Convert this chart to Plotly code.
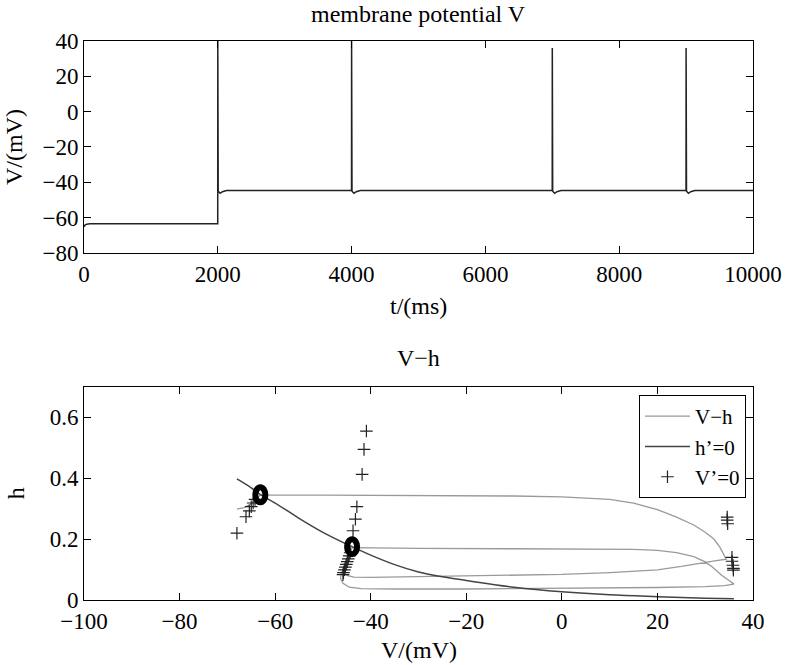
import plotly.graph_objects as go
from plotly.subplots import make_subplots

# ---- top panel: membrane potential trace (key points)
t_ms = [0, 15, 40, 90, 1999, 2000, 2001, 2003, 2006, 2035, 2070, 2130,
        3999, 4000, 4001, 4003, 4006, 4035, 4070, 4130,
        6999, 7000, 7001, 7003, 7006, 7035, 7070, 7130,
        8999, 9000, 9001, 9003, 9006, 9035, 9070, 9130, 10000]
v_mv = [-65.2, -64.2, -63.7, -63.5, -63.5, 40.0, 20.0, -20.0, -45.0, -46.2, -45.3, -44.7,
        -44.6, 40.0, 20.0, -20.0, -45.0, -46.2, -45.3, -44.7,
        -44.6, 36.0, 15.0, -20.0, -45.0, -46.2, -45.3, -44.7,
        -44.6, 36.0, 15.0, -20.0, -45.0, -46.2, -45.3, -44.7, -44.6]
t_ticks = [0, 2000, 4000, 6000, 8000, 10000]
t_ticktext = ["0", "2000", "4000", "6000", "8000", "10000"]
v_ticks = [-80, -60, -40, -20, 0, 20, 40]

# ---- bottom panel: V-h trajectory
traj_v = [-68.0, -66.5, -65.0, -64.0, -63.1,
          -50.0, -30.0, -10.0, 0.0, 10.0, 15.0, 20.0, 24.0, 27.6, 30.0, 31.8, 33.0, 33.9, 34.4,
          32.0, 29.0, 25.0, 20.0, 10.0, 0.0, -10.0, -20.0, -30.0, -40.0, -43.5, -45.0, -45.8,
          -45.5, -45.0, -44.5, -43.9,
          -30.0, -10.0, 5.0, 15.0, 20.0, 24.0, 27.6, 30.0, 31.5, 33.5, 35.0, 36.0,
          34.0, 30.0, 20.0, 0.0, -20.0, -35.0, -42.0, -44.5, -45.8, -46.3, -46.2, -45.8, -45.3,
          -44.8, -44.3, -43.9]
traj_h = [0.298, 0.303, 0.315, 0.330, 0.344,
          0.344, 0.343, 0.341, 0.338, 0.330, 0.318, 0.296, 0.272, 0.246, 0.222, 0.200, 0.175, 0.150, 0.134,
          0.128, 0.120, 0.110, 0.099, 0.090, 0.084, 0.081, 0.078, 0.075, 0.074, 0.075, 0.081, 0.092,
          0.115, 0.135, 0.155, 0.172,
          0.169, 0.168, 0.167, 0.166, 0.163, 0.155, 0.142, 0.125, 0.108, 0.080, 0.064, 0.052,
          0.047, 0.044, 0.041, 0.038, 0.036, 0.036, 0.037, 0.042, 0.055, 0.070, 0.085, 0.100, 0.120,
          0.140, 0.160, 0.172]

# h'=0 nullcline
null_v = [-68, -65, -63, -60, -55, -50, -45, -40, -35, -30, -25, -20, -10, 0, 10, 20, 30, 36]
null_h = [0.397, 0.368, 0.345, 0.318, 0.268, 0.222, 0.183, 0.147, 0.116, 0.092, 0.076,
          0.064, 0.042, 0.027, 0.017, 0.011, 0.006, 0.004]

# V'=0 points
vn_v = [-68.0, -66.1, -65.4, -65.0, -64.6, -64.2,
        -43.7, -43.2, -42.9, -41.8, -41.4, -40.9,
        -44.3, -44.5, -44.7, -44.9, -45.1, -45.3, -45.5, -45.7, -45.8,
        33.5, 34.6, 34.6, 34.7, 35.6, 35.6, 35.8, 35.9, 35.9]
vn_h = [0.219, 0.273, 0.292, 0.306, 0.318, 0.330,
        0.227, 0.265, 0.306, 0.412, 0.494, 0.554,
        0.155, 0.145, 0.135, 0.126, 0.117, 0.108, 0.099, 0.090, 0.083,
        0.356, 0.272, 0.262, 0.250, 0.140, 0.127, 0.114, 0.104, 0.098]
vh_vticks = [-100, -80, -60, -40, -20, 0, 20, 40]
vh_hticks = [0, 0.2, 0.4, 0.6]

# fixed points (thick black rings)
fix_v = [-63.1, -43.9]
fix_h = [0.345, 0.175]

FONT = "Liberation Serif"
TICK = 23
TXT = 24
TOP_DOM = [0.6208, 1.0]
BOT_DOM = [0.0, 0.3819]

fig = make_subplots(rows=2, cols=1)

fig.add_trace(go.Scatter(x=t_ms, y=v_mv, mode="lines", line=dict(color="#222222", width=1.5),
                         showlegend=False), row=1, col=1)

fig.add_trace(go.Scatter(x=traj_v, y=traj_h, mode="lines", name="V\u2212h",
                         line=dict(color="#9a9a9a", width=1.3)), row=2, col=1)
fig.add_trace(go.Scatter(x=null_v, y=null_h, mode="lines", name="h\u2019=0",
                         line=dict(color="#444444", width=1.5, shape="spline")), row=2, col=1)
fig.add_trace(go.Scatter(x=vn_v, y=vn_h, mode="markers", name="V\u2019=0",
                         marker=dict(symbol="cross-thin", size=9,
                                     line=dict(color="#222222", width=1.2))), row=2, col=1)

for fv, fh in zip(fix_v, fix_h):
    fig.add_shape(type="circle", xref="x2", yref="y2", xsizemode="pixel", ysizemode="pixel",
                  xanchor=fv, yanchor=fh, x0=-5, x1=5, y0=-7.5, y1=7.5,
                  line=dict(color="black", width=6))

axis_common = dict(showline=True, linecolor="black", linewidth=1, mirror="ticks",
                   ticks="inside", ticklen=7, tickcolor="black", showgrid=False,
                   zeroline=False, automargin=False,
                   tickfont=dict(family=FONT, size=TICK, color="black"))

fig.update_xaxes(**axis_common)
fig.update_yaxes(**axis_common)

fig.update_xaxes(range=[0, 10000], tickvals=t_ticks, ticktext=t_ticktext,
                 domain=[0, 1], row=1, col=1)
fig.update_yaxes(range=[-80, 40], tickvals=v_ticks, domain=TOP_DOM, row=1, col=1)
fig.update_xaxes(range=[-100, 40], tickvals=vh_vticks, domain=[0, 1], row=2, col=1)
fig.update_yaxes(range=[0, 0.7], tickvals=vh_hticks, domain=BOT_DOM, row=2, col=1)

tf = dict(family=FONT, size=TXT, color="black")
# panel titles
fig.add_annotation(text="membrane potential V", xref="paper", yref="paper", x=0.5, y=TOP_DOM[1],
                   yshift=27, yanchor="middle", showarrow=False, font=tf)
fig.add_annotation(text="V\u2212h", xref="paper", yref="paper", x=0.5, y=BOT_DOM[1],
                   yshift=29, yanchor="middle", showarrow=False, font=tf)
# axis titles
fig.add_annotation(text="t/(ms)", xref="paper", yref="paper", x=0.5, y=TOP_DOM[0],
                   yshift=-53, yanchor="middle", showarrow=False, font=tf)
fig.add_annotation(text="V/(mV)", xref="paper", yref="paper", x=0.5, y=BOT_DOM[0],
                   yshift=-50, yanchor="middle", showarrow=False, font=tf)
fig.add_annotation(text="V/(mV)", xref="paper", yref="paper", x=0, y=sum(TOP_DOM) / 2,
                   xshift=-70, xanchor="center", yanchor="middle", textangle=-90,
                   showarrow=False, font=tf)
fig.add_annotation(text="h", xref="paper", yref="paper", x=0, y=sum(BOT_DOM) / 2,
                   xshift=-68, xanchor="center", yanchor="middle", textangle=-90,
                   showarrow=False, font=tf)

fig.update_layout(
    width=786, height=665,
    margin=dict(l=84, r=33, t=41, b=65),
    paper_bgcolor="white", plot_bgcolor="white",
    font=dict(family=FONT, size=TICK, color="black"),
    legend=dict(x=0.9895, y=0.3667, xanchor="right", yanchor="top",
                bgcolor="white", bordercolor="black", borderwidth=1,
                font=dict(family=FONT, size=21, color="black"),
                tracegroupgap=0, itemwidth=45),
    showlegend=True,
)

# remove the default 8 px page margin so the figure sits at the window's corner
fig.write_html("out.html", config={"displayModeBar": False},
               post_script="document.body.style.margin='0';document.body.style.overflow='hidden';")
